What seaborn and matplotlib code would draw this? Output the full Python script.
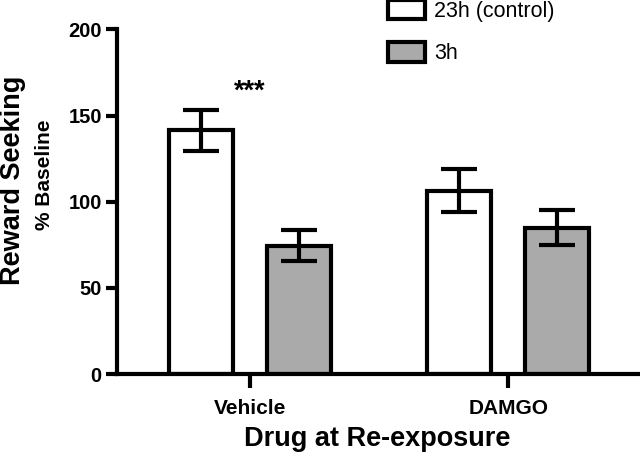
import pandas as pd
import numpy as np
import matplotlib
matplotlib.use("Agg")
import matplotlib.pyplot as plt
import seaborn as sns
from matplotlib.patches import Patch

# data
drugs = ["Vehicle", "DAMGO"]
groups = ["23h (control)", "3h"]
means_23h = [141.5, 106.5]
means_3h = [74.5, 85.0]
sem_23h = [12.0, 12.5]
sem_3h = [9.0, 10.0]

df = pd.DataFrame({
    "drug": drugs * 2,
    "group": [groups[0]] * 2 + [groups[1]] * 2,
    "value": means_23h + means_3h,
    "sem": sem_23h + sem_3h,
})

sns.set_style("ticks")
plt.rcParams["font.family"] = ["Liberation Sans", "DejaVu Sans"]
plt.rcParams["text.color"] = "black"
plt.rcParams["axes.edgecolor"] = "black"
plt.rcParams["xtick.color"] = "black"
plt.rcParams["ytick.color"] = "black"

fig = plt.figure(figsize=(6.4, 4.58), dpi=100)
ax = fig.add_axes([0.183, 0.1834, 0.817, 0.7522])

palette = {groups[0]: "white", groups[1]: "#aaaaaa"}
sns.barplot(data=df, x="drug", y="value", hue="group", order=drugs,
            hue_order=groups, palette=palette, width=0.76, gap=0.35,
            errorbar=None, edgecolor="black", linewidth=3, legend=False,
            ax=ax, zorder=2)

# error bars on each bar (patches follow hue order, then drug order)
bars = [p for p in ax.patches if p.get_width() > 0]
for p, (_, row) in zip(bars, df.iterrows()):
    xc = p.get_x() + p.get_width() / 2
    ax.errorbar(xc, row["value"], yerr=row["sem"], color="black",
                elinewidth=3, capsize=13, capthick=3, zorder=3)

ax.set_xlim(-0.515, 1.51)
ax.set_ylim(0, 200)
ax.set_yticks([0, 50, 100, 150, 200])
ax.set_xlabel("")
ax.set_ylabel("")
sns.despine(ax=ax)
ax.spines["left"].set_linewidth(3)
ax.spines["bottom"].set_linewidth(3)
ax.tick_params(axis="y", length=8, width=3, labelsize=14.5, pad=3)
ax.tick_params(axis="x", length=10, width=3, labelsize=15, pad=8)
for lab in ax.get_xticklabels() + ax.get_yticklabels():
    lab.set_fontweight("bold")

ax.text(0, 164, "***", ha="center", va="center", fontsize=19.5,
        fontweight="bold")

fig.text(0.021, 0.606, "Reward Seeking", rotation=90, ha="center",
         va="center", fontsize=19.5, fontweight="bold")
fig.text(0.07, 0.618, "% Baseline", rotation=90, ha="center",
         va="center", fontsize=15, fontweight="bold")
fig.text(0.59, 0.042, "Drug at Re-exposure", ha="center", va="center",
         fontsize=19.5, fontweight="bold")

handles = [Patch(facecolor=palette[g], edgecolor="black", linewidth=3)
           for g in groups]
fig.legend(handles, groups, loc="upper left", bbox_to_anchor=(0.589, 1.023),
           frameon=False, fontsize=15.5, handlelength=1.72, handleheight=1.0,
           labelspacing=0.93, borderpad=0, handletextpad=0.45)

fig.savefig("out.png", dpi=100)
